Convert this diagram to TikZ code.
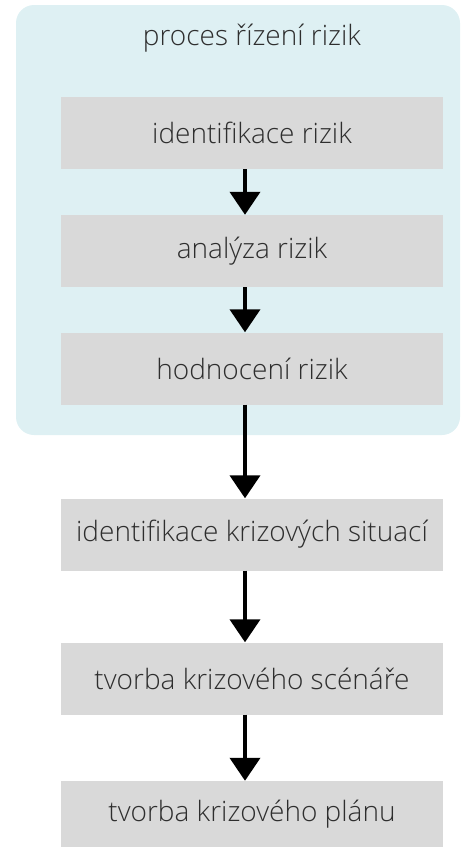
\documentclass[tikz,border=0pt]{standalone}
\usepackage{fontspec}
\setmainfont{Open Sans}[UprightFont=* Light]
\usetikzlibrary{arrows.meta}
\definecolor{contbg}{HTML}{DEF0F3}
\definecolor{boxbg}{HTML}{D9D9D9}
\definecolor{txt}{HTML}{2E2E2E}
\begin{document}
\begin{tikzpicture}[x=1pt,y=-1pt,
  stepbox/.style={fill=boxbg, draw=none, minimum width=382pt, minimum height=72pt,
    inner sep=0pt, text=txt, font=\fontsize{28}{33}\selectfont},
  flow/.style={line width=4pt, -{Triangle[width=30pt,length=23pt]}, black}]
\useasboundingbox (0,0) rectangle (461,847);
\fill[contbg, rounded corners=18pt] (16,5) rectangle (460,435);
\node[text=txt, font=\fontsize{28}{33}\selectfont] (title) at (252,38) {proces řízení rizik};
\node[stepbox] (b1) at (252,133) {identifikace rizik};
\node[stepbox] (b2) at (252,251) {analýza rizik};
\node[stepbox] (b3) at (252,368.5) {hodnocení rizik};
\node[stepbox] (b4) at (252,534.5) {identifikace krizových situací};
\node[stepbox] (b5) at (252,678.5) {tvorba krizového scénáře};
\node[stepbox, minimum height=66pt] (b6) at (252,814) {tvorba krizového plánu};
\draw[flow] (b1.south -| 245,0) -- (b2.north -| 245,0);
\draw[flow] (b2.south -| 245,0) -- (b3.north -| 245,0);
\draw[flow] (b3.south -| 245,0) -- (b4.north -| 245,0);
\draw[flow] (b4.south -| 245,0) -- (b5.north -| 245,0);
\draw[flow] (b5.south -| 245,0) -- (b6.north -| 245,0);
\end{tikzpicture}
\end{document}
